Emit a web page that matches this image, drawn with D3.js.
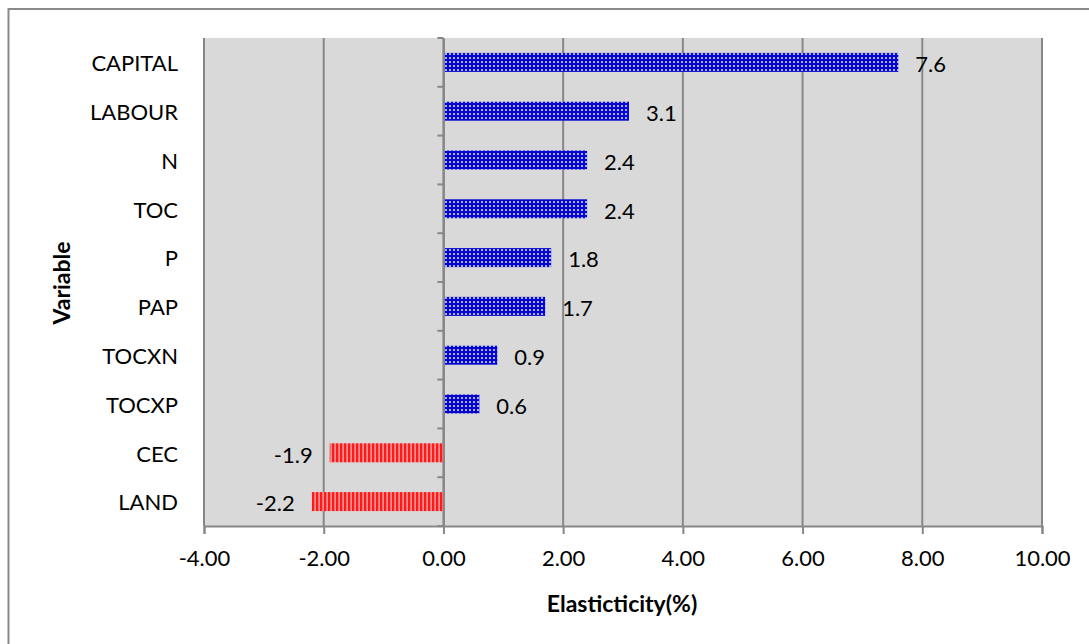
<!DOCTYPE html>
<html>
<head>
<meta charset="utf-8">
<script src="https://cdn.jsdelivr.net/npm/d3@7"></script>
<style>
  html, body { margin: 0; padding: 0; background: #fff; }
  svg { display: block; font-family: Lato, "Open Sans", sans-serif; }
</style>
</head>
<body>
<svg id="chart" width="1089" height="644"></svg>
<script>
// Elasticity of each variable, top to bottom
const variables = ["CAPITAL", "LABOUR", "N", "TOC", "P", "PAP", "TOCXN", "TOCXP", "CEC", "LAND"];
const elasticities = [7.6, 3.1, 2.4, 2.4, 1.8, 1.7, 0.9, 0.6, -1.9, -2.2];
const xTicks = [-4, -2, 0, 2, 4, 6, 8, 10];
const xDomain = [-4, 10];

const svg = d3.select("#chart");
const W = 1089, H = 644;
const plot = { left: 204, right: 1042, top: 38, bottom: 526 };
const FS = 22;
const GRID = "#878787";

// Plain hyphen for negative numbers
const fmt = p => d => d3.format(p)(d).replace("\u2212", "-");

// Outer chart frame
svg.append("rect")
  .attr("x", 8.5).attr("y", 9).attr("width", W + 20).attr("height", H + 20)
  .attr("fill", "#fff").attr("stroke", "#898989").attr("stroke-width", 2);

// Fill patterns for positive (dotted blue) and negative (striped red) bars
const defs = svg.append("defs");
const dots = defs.append("pattern")
  .attr("id", "dots").attr("patternUnits", "userSpaceOnUse")
  .attr("width", 4).attr("height", 4);
dots.append("rect").attr("width", 4).attr("height", 4).attr("fill", "#0606d2");
dots.append("circle").attr("cx", 2).attr("cy", 2).attr("r", 1.1).attr("fill", "#b4b4f6");
dots.append("circle").attr("cx", 2).attr("cy", 2).attr("r", 0.6).attr("fill", "#ffffff");

const stripes = defs.append("pattern")
  .attr("id", "stripes").attr("patternUnits", "userSpaceOnUse")
  .attr("width", 4).attr("height", 4);
stripes.append("rect").attr("width", 4).attr("height", 4).attr("fill", "#ff1a1a");
stripes.append("rect").attr("x", 2.5).attr("width", 1.2).attr("height", 4).attr("fill", "#ffc4c4");

const x = d3.scaleLinear().domain(xDomain).range([plot.left, plot.right]);
const yBand = d3.scaleBand().domain(variables).range([plot.top, plot.bottom]);

// Plot background
svg.append("rect")
  .attr("x", plot.left).attr("y", plot.top)
  .attr("width", plot.right - plot.left).attr("height", plot.bottom - plot.top)
  .attr("fill", "#d9d9d9");

// Vertical gridlines
svg.append("g").selectAll("line").data(xTicks).join("line")
  .attr("x1", d => x(d)).attr("x2", d => x(d))
  .attr("y1", plot.top).attr("y2", plot.bottom)
  .attr("stroke", GRID).attr("stroke-width", 2);

// Bars
const data = variables.map((v, i) => ({ v, e: elasticities[i] }));
svg.append("g").selectAll("rect").data(data).join("rect")
  .attr("x", d => x(Math.min(0, d.e)))
  .attr("width", d => Math.abs(x(d.e) - x(0)))
  .attr("y", d => yBand(d.v) + yBand.bandwidth() / 2 - 9.5)
  .attr("height", 19)
  .attr("fill", d => d.e >= 0 ? "url(#dots)" : "url(#stripes)");

// Value labels
svg.append("g").selectAll("text").data(data).join("text")
  .attr("x", d => d.e >= 0 ? x(d.e) + 17 : x(d.e) - 17)
  .attr("y", d => yBand(d.v) + yBand.bandwidth() / 2 + 2)
  .attr("dy", "0.35em")
  .attr("text-anchor", d => d.e >= 0 ? "start" : "end")
  .attr("font-size", FS).attr("fill", "#000")
  .text(d => fmt(".1f")(d.e));

// Category axis along zero
const yAxis = d3.axisLeft(yBand).tickSize(0).tickFormat("");
svg.append("g").attr("transform", `translate(${x(0)},0)`).call(yAxis)
  .call(g => g.select(".domain").attr("stroke", GRID).attr("stroke-width", 2));
// Band separator ticks on the zero line
svg.append("g").selectAll("line").data(d3.range(variables.length + 1)).join("line")
  .attr("x1", x(0) - 6).attr("x2", x(0))
  .attr("y1", i => plot.top + i * yBand.step())
  .attr("y2", i => plot.top + i * yBand.step())
  .attr("stroke", GRID).attr("stroke-width", 2);

// Category labels on the left
svg.append("g").selectAll("text").data(variables).join("text")
  .attr("x", 178)
  .attr("y", d => yBand(d) + yBand.bandwidth() / 2 + 1)
  .attr("dy", "0.35em")
  .attr("text-anchor", "end")
  .attr("font-size", FS).attr("fill", "#000")
  .text(d => d);

// Horizontal value axis
const xAxis = d3.axisBottom(x).tickValues(xTicks).tickSize(8).tickPadding(16)
  .tickFormat(fmt(".2f"));
svg.append("g").attr("transform", `translate(0,${plot.bottom})`).call(xAxis)
  .call(g => g.select(".domain").attr("stroke", GRID).attr("stroke-width", 2))
  .call(g => g.selectAll(".tick line").attr("stroke", GRID).attr("stroke-width", 2))
  .call(g => g.selectAll(".tick text").attr("font-size", FS).attr("fill", "#000")
    .attr("font-family", "Lato, 'Open Sans', sans-serif"));

// Axis titles
svg.append("text")
  .attr("x", 622).attr("y", 612)
  .attr("text-anchor", "middle").attr("font-size", 23).attr("font-weight", "bold")
  .text("Elasticticity(%)");
svg.append("text")
  .attr("transform", "translate(70,283) rotate(-90)")
  .attr("text-anchor", "middle").attr("font-size", 23).attr("font-weight", "bold")
  .text("Variable");
</script>
</body>
</html>
